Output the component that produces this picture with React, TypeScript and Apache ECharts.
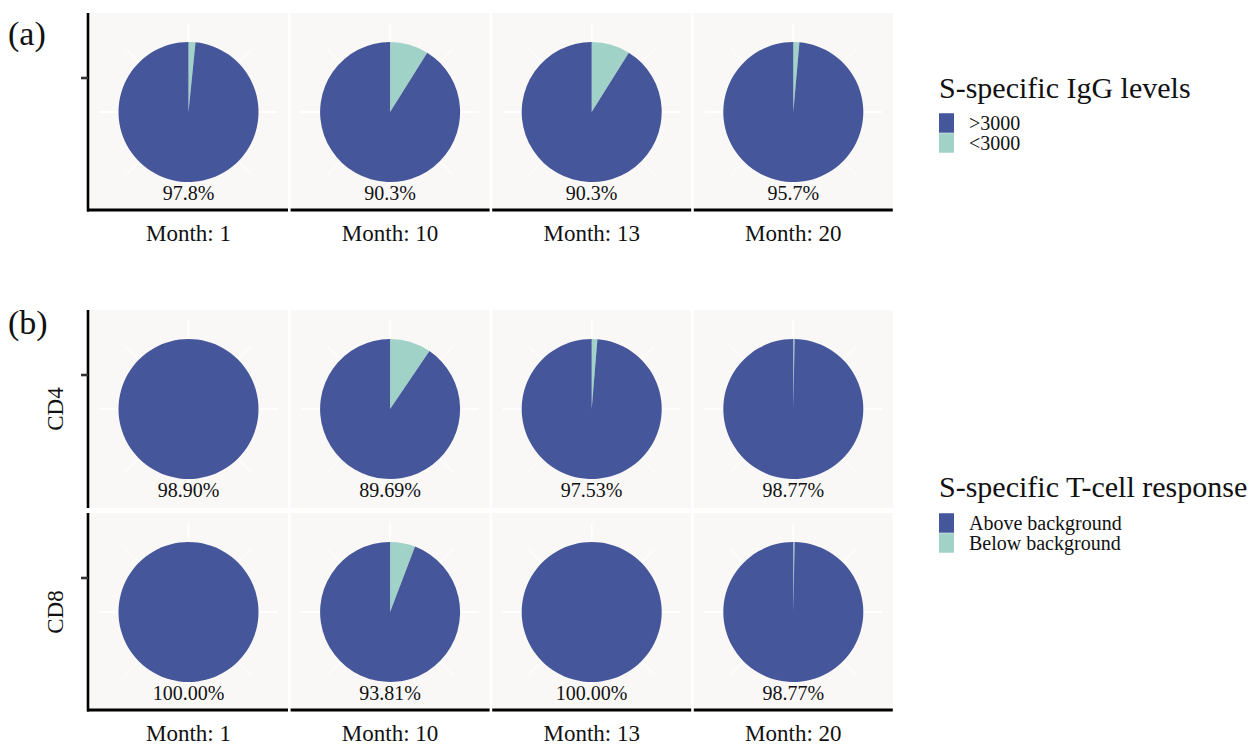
import React, { useEffect, useRef } from "react";
import * as echarts from "echarts";

const months = ["Month: 1", "Month: 10", "Month: 13", "Month: 20"];

const iggNames = [">3000", "<3000"];
const iggHigh = [98.4, 91.1, 91.1, 98.6];
const iggLow = [1.6, 8.9, 8.9, 1.4];
const iggLabels = ["97.8%", "90.3%", "90.3%", "95.7%"];

const tNames = ["Above background", "Below background"];
const cd4Above = [100, 90.5, 98.7, 99.7];
const cd4Below = [0, 9.5, 1.3, 0.3];
const cd4Labels = ["98.90%", "89.69%", "97.53%", "98.77%"];
const cd8Above = [100, 94.2, 100, 99.7];
const cd8Below = [0, 5.8, 0, 0.3];
const cd8Labels = ["100.00%", "93.81%", "100.00%", "98.77%"];

const rowNames = ["", "CD4", "CD8"];

const BLUE = "#46569a";
const TEAL = "#a1d2c8";
const BG = "#f9f8f7";
const FONT = "'Liberation Serif', 'Times New Roman', serif";

export default function App() {
  const ref = useRef<HTMLDivElement>(null);

  useEffect(() => {
    if (!ref.current) return;
    const chart = echarts.init(ref.current, null, { renderer: "svg" });

    const colX0 = (i: number) => 89 + i * 201.6;
    const colW = 199;
    const colCx = (i: number) => colX0(i) + colW / 2;
    const rows = [
      { top: 13, bottom: 210, cy: 112, high: iggHigh, low: iggLow, labels: iggLabels, names: iggNames, axisBottom: true },
      { top: 310, bottom: 508, cy: 409, high: cd4Above, low: cd4Below, labels: cd4Labels, names: tNames, axisBottom: false },
      { top: 513, bottom: 710, cy: 612, high: cd8Above, low: cd8Below, labels: cd8Labels, names: tNames, axisBottom: true },
    ];
    const R = 70;
    const SPOKE = 89;

    const series: any[] = [];
    const graphic: any[] = [];

    rows.forEach((row, r) => {
      for (let i = 0; i < 4; i++) {
        const x0 = colX0(i);
        const cx = colCx(i);
        const cy = row.cy;
        graphic.push({
          type: "rect",
          z: -20,
          shape: { x: x0, y: row.top, width: colW, height: row.bottom - row.top },
          style: { fill: BG },
          silent: true,
        });
        for (let k = 0; k < 8; k++) {
          const a = (k * Math.PI) / 4;
          const major = k % 2 === 0;
          graphic.push({
            type: "line",
            z: -10,
            shape: { x1: cx, y1: cy, x2: cx + SPOKE * Math.sin(a), y2: cy - SPOKE * Math.cos(a) },
            style: { stroke: "#ffffff", lineWidth: major ? 1.8 : 1.2, opacity: major ? 1 : 0.8 },
            silent: true,
          });
        }
        series.push({
          type: "pie",
          z: 5,
          center: [cx, cy],
          radius: R,
          startAngle: 90,
          clockwise: true,
          silent: true,
          label: { show: false },
          labelLine: { show: false },
          emphasis: { disabled: true },
          itemStyle: { borderWidth: 0 },
          data: [
            { name: row.names[1], value: row.low[i], itemStyle: { color: TEAL } },
            { name: row.names[0], value: row.high[i], itemStyle: { color: BLUE } },
          ],
        });
        graphic.push({
          type: "text",
          z: 50,
          x: cx,
          y: cy + 81,
          style: { text: row.labels[i], fill: "#111", font: `20px ${FONT}`, align: "center", verticalAlign: "middle" },
          silent: true,
        });
        if (row.axisBottom) {
          graphic.push({
            type: "line",
            z: 40,
            shape: { x1: i === 0 ? 87 : x0, y1: row.bottom, x2: x0 + colW, y2: row.bottom },
            style: { stroke: "#000", lineWidth: 3 },
            silent: true,
          });
          graphic.push({
            type: "text",
            z: 50,
            x: cx,
            y: row.bottom + 23,
            style: { text: months[i], fill: "#111", font: `23px ${FONT}`, align: "center", verticalAlign: "middle" },
            silent: true,
          });
        }
      }
      graphic.push({
        type: "line",
        z: 40,
        shape: { x1: 88, y1: row.top, x2: 88, y2: row.bottom + (row.axisBottom ? 1.5 : 0) },
        style: { stroke: "#000", lineWidth: 2.6 },
        silent: true,
      });
      graphic.push({
        type: "line",
        z: 40,
        shape: { x1: 81, y1: row.cy - 34, x2: 88, y2: row.cy - 34 },
        style: { stroke: "#333", lineWidth: 2.6 },
        silent: true,
      });
      if (rowNames[r]) {
        graphic.push({
          type: "text",
          z: 50,
          x: 55,
          y: row.cy,
          rotation: Math.PI / 2,
          style: { text: rowNames[r], fill: "#111", font: `23px ${FONT}`, align: "center", verticalAlign: "middle" },
          silent: true,
        });
      }
    });

    graphic.push({
      type: "text", z: 50, x: 8, y: 33,
      style: { text: "(a)", fill: "#111", font: `34px ${FONT}`, align: "left", verticalAlign: "middle" },
      silent: true,
    });
    graphic.push({
      type: "text", z: 50, x: 8, y: 322,
      style: { text: "(b)", fill: "#111", font: `34px ${FONT}`, align: "left", verticalAlign: "middle" },
      silent: true,
    });
    graphic.push({
      type: "text", z: 50, x: 939, y: 87,
      style: { text: "S-specific IgG levels", fill: "#111", font: `30px ${FONT}`, align: "left", verticalAlign: "middle" },
      silent: true,
    });
    graphic.push({
      type: "text", z: 50, x: 939, y: 486,
      style: { text: "S-specific T-cell response", fill: "#111", font: `30px ${FONT}`, align: "left", verticalAlign: "middle" },
      silent: true,
    });

    const legendBase = {
      orient: "vertical",
      itemWidth: 15,
      itemHeight: 19.5,
      itemGap: 0,
      icon: "rect",
      padding: 0,
      selectedMode: false,
      textStyle: { fontFamily: FONT, fontSize: 20, lineHeight: 19.5, color: "#111", padding: [0, 0, 0, 10] },
    };

    chart.setOption({
      animation: false,
      backgroundColor: "#ffffff",
      color: [TEAL, BLUE],
      legend: [
        { ...legendBase, data: iggNames, left: 939, top: 113 },
        { ...legendBase, data: tNames, left: 939, top: 513 },
      ],
      series,
      graphic,
    });

    return () => chart.dispose();
  }, []);

  return (
    <div
      ref={ref}
      style={{ position: "fixed", left: 0, top: 0, width: 1258, height: 745 }}
    />
  );
}
